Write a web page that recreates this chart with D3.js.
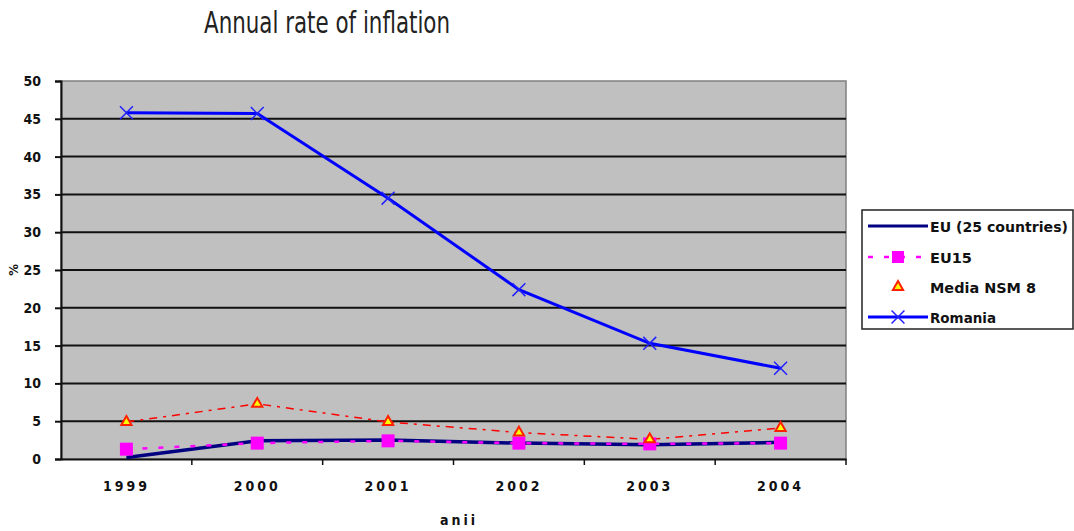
<!DOCTYPE html>
<html>
<head>
<meta charset="utf-8">
<script src="https://cdn.jsdelivr.net/npm/d3@7"></script>
<style>
  html, body { margin: 0; padding: 0; background: #fff; }
  svg text { font-family: "DejaVu Sans Condensed", "Liberation Sans", sans-serif; }
</style>
</head>
<body>
<svg id="chart" width="1074" height="531"></svg>
<script>
// Years on the category axis
const years = ["1999", "2000", "2001", "2002", "2003", "2004"];
const yearLabels = ["1999", "2000", "2001", "2002", "2003", "2004"];
// Annual inflation, %
const eu25 = [0.2, 2.4, 2.5, 2.1, 1.9, 2.2];
const eu15 = [1.3, 2.1, 2.4, 2.1, 2.0, 2.1];
const nsm8 = [4.9, 7.3, 4.9, 3.5, 2.6, 4.1];
const romania = [45.8, 45.7, 34.5, 22.4, 15.3, 12.0];
const yTicks = [0, 5, 10, 15, 20, 25, 30, 35, 40, 45, 50];
const seriesNames = ["EU (25 countries)", "EU15", "Media NSM 8", "Romania"];
const legendTextWidths = [138, 42, 106, 66];

const svg = d3.select("#chart");
const plot = { left: 61, right: 846, top: 81, bottom: 459 };

const x = d3.scaleBand().domain(years).range([plot.left, plot.right]);
const y = d3.scaleLinear().domain([0, 50]).range([plot.bottom, plot.top]);
const cx = d => x(d) + x.bandwidth() / 2;

// Title
svg.append("text")
  .attr("x", 204).attr("y", 33)
  .attr("font-size", 30)
  .attr("font-weight", "normal")
  .attr("fill", "#222")
  .attr("textLength", 246).attr("lengthAdjust", "spacingAndGlyphs")
  .text("Annual rate of inflation");

// Plot background
svg.append("rect")
  .attr("x", plot.left).attr("y", plot.top)
  .attr("width", plot.right - plot.left).attr("height", plot.bottom - plot.top)
  .attr("fill", "#c0c0c0").attr("stroke", "#808080").attr("stroke-width", 1.5);

// Horizontal grid lines
svg.append("g").selectAll("line").data(yTicks.filter(t => t > 0 && t < 50)).join("line")
  .attr("x1", plot.left).attr("x2", plot.right)
  .attr("y1", d => y(d)).attr("y2", d => y(d))
  .attr("stroke", "#111").attr("stroke-width", 2);

// Y axis
const yAxis = d3.axisLeft(y).tickValues(yTicks).tickSize(6).tickPadding(6).tickFormat(d3.format("d"));
const gy = svg.append("g").attr("transform", `translate(${plot.left},0)`).call(yAxis);
gy.select(".domain").attr("stroke", "#111").attr("stroke-width", 2);
gy.selectAll(".tick line").attr("stroke", "#111").attr("stroke-width", 2);
gy.selectAll(".tick text")
  .attr("font-size", 14).attr("font-weight", "bold").attr("fill", "#111")
  .attr("x", -20).attr("text-anchor", "end");

// X axis
const xAxis = d3.axisBottom(x).tickSize(0).tickPadding(22).tickFormat((d, i) => yearLabels[i]);
const gx = svg.append("g").attr("transform", `translate(0,${plot.bottom})`).call(xAxis);
gx.select(".domain").attr("stroke", "#111").attr("stroke-width", 2);
gx.selectAll(".tick text")
  .attr("font-size", 14).attr("font-weight", "bold").attr("fill", "#111")
  .attr("letter-spacing", 3);
// Tick marks between categories
const bounds = years.map(d => x(d)).concat([plot.right]);
gx.selectAll(".bound").data(bounds.slice(1)).join("line").attr("class", "bound")
  .attr("x1", d => d).attr("x2", d => d).attr("y1", 0).attr("y2", 6)
  .attr("stroke", "#111").attr("stroke-width", 1.5);

// Axis titles
svg.append("text").attr("x", 440).attr("y", 525)
  .attr("font-size", 14).attr("font-weight", "bold").attr("letter-spacing", 3)
  .attr("fill", "#111").text("anii");
svg.append("text").attr("transform", "translate(18,270) rotate(-90)")
  .attr("text-anchor", "middle").attr("font-size", 13).attr("font-weight", "bold")
  .attr("fill", "#111").text("%");

const line = d3.line().x((d, i) => cx(years[i])).y(d => y(d));

// Media NSM 8
svg.append("path").datum(nsm8).attr("d", line)
  .attr("fill", "none").attr("stroke", "#ff0000").attr("stroke-width", 1.5)
  .attr("stroke-dasharray", "8,6,3,6");
// EU 25
svg.append("path").datum(eu25).attr("d", line)
  .attr("fill", "none").attr("stroke", "#000080").attr("stroke-width", 3.5);
// EU15
svg.append("path").datum(eu15).attr("d", line)
  .attr("fill", "none").attr("stroke", "#ff00ff").attr("stroke-width", 2.5)
  .attr("stroke-dasharray", "5,11");
svg.append("g").selectAll("rect").data(eu15).join("rect")
  .attr("x", (d, i) => cx(years[i]) - 6.5).attr("y", d => y(d) - 6.5)
  .attr("width", 13).attr("height", 13).attr("fill", "#ff00ff");
// NSM 8 markers
const tri = d3.symbol().type(d3.symbolTriangle).size(45);
svg.append("g").selectAll("path").data(nsm8).join("path")
  .attr("d", tri)
  .attr("transform", (d, i) => `translate(${cx(years[i])},${y(d)})`)
  .attr("fill", "#ffff00").attr("stroke", "#ff2000").attr("stroke-width", 2);
// Romania
svg.append("path").datum(romania).attr("d", line)
  .attr("fill", "none").attr("stroke", "#0000ff").attr("stroke-width", 3);
const cross = d3.symbol().type(d3.symbolX).size(110);
svg.append("g").selectAll("path").data(romania).join("path")
  .attr("d", cross)
  .attr("transform", (d, i) => `translate(${cx(years[i])},${y(d)})`)
  .attr("fill", "none").attr("stroke", "#2020ff").attr("stroke-width", 1.5);

// Legend
const lg = svg.append("g");
lg.append("rect").attr("x", 862).attr("y", 210).attr("width", 211).attr("height", 119)
  .attr("fill", "#fff").attr("stroke", "#222").attr("stroke-width", 1.5);
const rows = [226, 257, 287, 317];
const lx1 = 868, lx2 = 928, lmid = 898;
// EU25 sample
lg.append("line").attr("x1", lx1).attr("x2", lx2).attr("y1", rows[0]).attr("y2", rows[0])
  .attr("stroke", "#000080").attr("stroke-width", 3);
// EU15 sample
lg.append("line").attr("x1", lx1).attr("x2", lx2).attr("y1", rows[1]).attr("y2", rows[1])
  .attr("stroke", "#ff00ff").attr("stroke-width", 2.5).attr("stroke-dasharray", "5,11");
lg.append("rect").attr("x", lmid - 6).attr("y", rows[1] - 6).attr("width", 12).attr("height", 12).attr("fill", "#ff00ff");
// NSM 8 sample
lg.append("path").attr("d", tri).attr("transform", `translate(${lmid},${rows[2]})`)
  .attr("fill", "#ffff00").attr("stroke", "#ff2000").attr("stroke-width", 2);
// Romania sample
lg.append("line").attr("x1", lx1).attr("x2", lx2).attr("y1", rows[3]).attr("y2", rows[3])
  .attr("stroke", "#0000ff").attr("stroke-width", 3);
lg.append("path").attr("d", cross).attr("transform", `translate(${lmid},${rows[3]})`)
  .attr("fill", "none").attr("stroke", "#2020ff").attr("stroke-width", 1.5);
lg.selectAll("text.lbl").data(seriesNames).join("text").attr("class", "lbl")
  .attr("x", 930).attr("y", (d, i) => rows[i] + 6)
  .attr("font-size", 14).attr("font-weight", "bold").attr("fill", "#111")
  .attr("textLength", (d, i) => legendTextWidths[i]).attr("lengthAdjust", "spacingAndGlyphs")
  .text(d => d);
</script>
</body>
</html>
